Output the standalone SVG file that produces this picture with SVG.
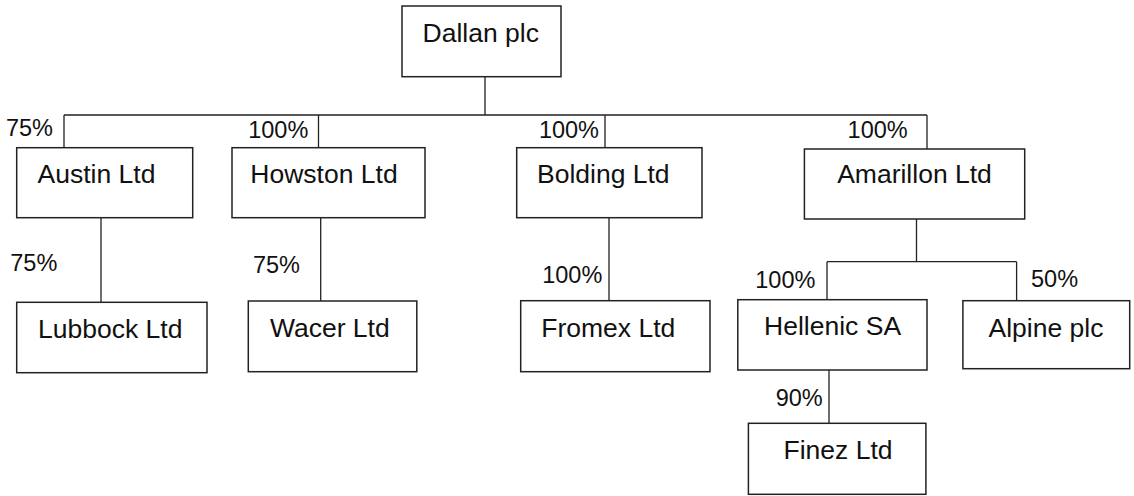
<svg xmlns="http://www.w3.org/2000/svg" width="1134" height="496" viewBox="0 0 1134 496">
<style>
.box{fill:#fff;stroke:#222;stroke-width:1.5}
.ln{fill:none;stroke:#222;stroke-width:1.3}
.nt{font-family:"Liberation Sans",Arial,sans-serif;font-size:26.5px;fill:#111;text-anchor:middle}
.pc{font-family:"Liberation Sans",Arial,sans-serif;font-size:23.5px;fill:#111}
.e{text-anchor:end}
</style>
<rect width="1134" height="496" fill="#fff"/>
<g id="connectors">
<path class="ln" d="M485 76.7V115M64 115H927M64 115V147.7M318.5 115V147.7M605 115V147.7M927 115V149"/>
<path class="ln" d="M101 217.7V302.3M320.7 217.7V301M609 217.7V300.7M916.5 219V261.7M827 261.7H1016.6M827 261.7V299.7M1016.6 261.7V300.7M829 370V423.3"/>
<text class="pc e" x="53" y="135.7">75%</text>
<text class="pc e" x="308.3" y="137.7">100%</text>
<text class="pc e" x="599" y="137.7">100%</text>
<text class="pc e" x="907.7" y="137.7">100%</text>
<text class="pc e" x="57.3" y="271">75%</text>
<text class="pc e" x="300" y="272.7">75%</text>
<text class="pc e" x="602.3" y="282.7">100%</text>
<text class="pc e" x="815.4" y="288.3">100%</text>
<text class="pc" x="1031" y="287.3">50%</text>
<text class="pc e" x="822.7" y="406">90%</text>
</g>
<g id="dallan"><rect class="box" x="402" y="6" width="159" height="70.7"/><text class="nt" x="480.8" y="42.3">Dallan plc</text></g>
<g id="austin"><rect class="box" x="16.7" y="147.7" width="176" height="70"/><text class="nt" x="96.5" y="182.7">Austin Ltd</text></g>
<g id="howston"><rect class="box" x="232" y="147.7" width="193" height="70"/><text class="nt" x="324" y="182.7">Howston Ltd</text></g>
<g id="bolding"><rect class="box" x="516.7" y="147.7" width="185.3" height="70"/><text class="nt" x="603.3" y="182.7">Bolding Ltd</text></g>
<g id="amarillon"><rect class="box" x="804.4" y="149" width="220.3" height="70"/><text class="nt" x="914.5" y="183">Amarillon Ltd</text></g>
<g id="lubbock"><rect class="box" x="16.7" y="302.3" width="190.3" height="70.4"/><text class="nt" x="110.2" y="337.7">Lubbock Ltd</text></g>
<g id="wacer"><rect class="box" x="248.3" y="301" width="168.5" height="70.7"/><text class="nt" x="329.8" y="336.7">Wacer Ltd</text></g>
<g id="fromex"><rect class="box" x="520.7" y="300.7" width="189.3" height="71"/><text class="nt" x="608.3" y="336.7">Fromex Ltd</text></g>
<g id="hellenic"><rect class="box" x="737.8" y="299.7" width="189.2" height="70.3"/><text class="nt" x="832.6" y="335">Hellenic SA</text></g>
<g id="alpine"><rect class="box" x="962.9" y="300.7" width="166.8" height="68"/><text class="nt" x="1046" y="336.7">Alpine plc</text></g>
<g id="finez"><rect class="box" x="748.4" y="423.3" width="177.5" height="71"/><text class="nt" x="838" y="459.3">Finez Ltd</text></g>
</svg>
